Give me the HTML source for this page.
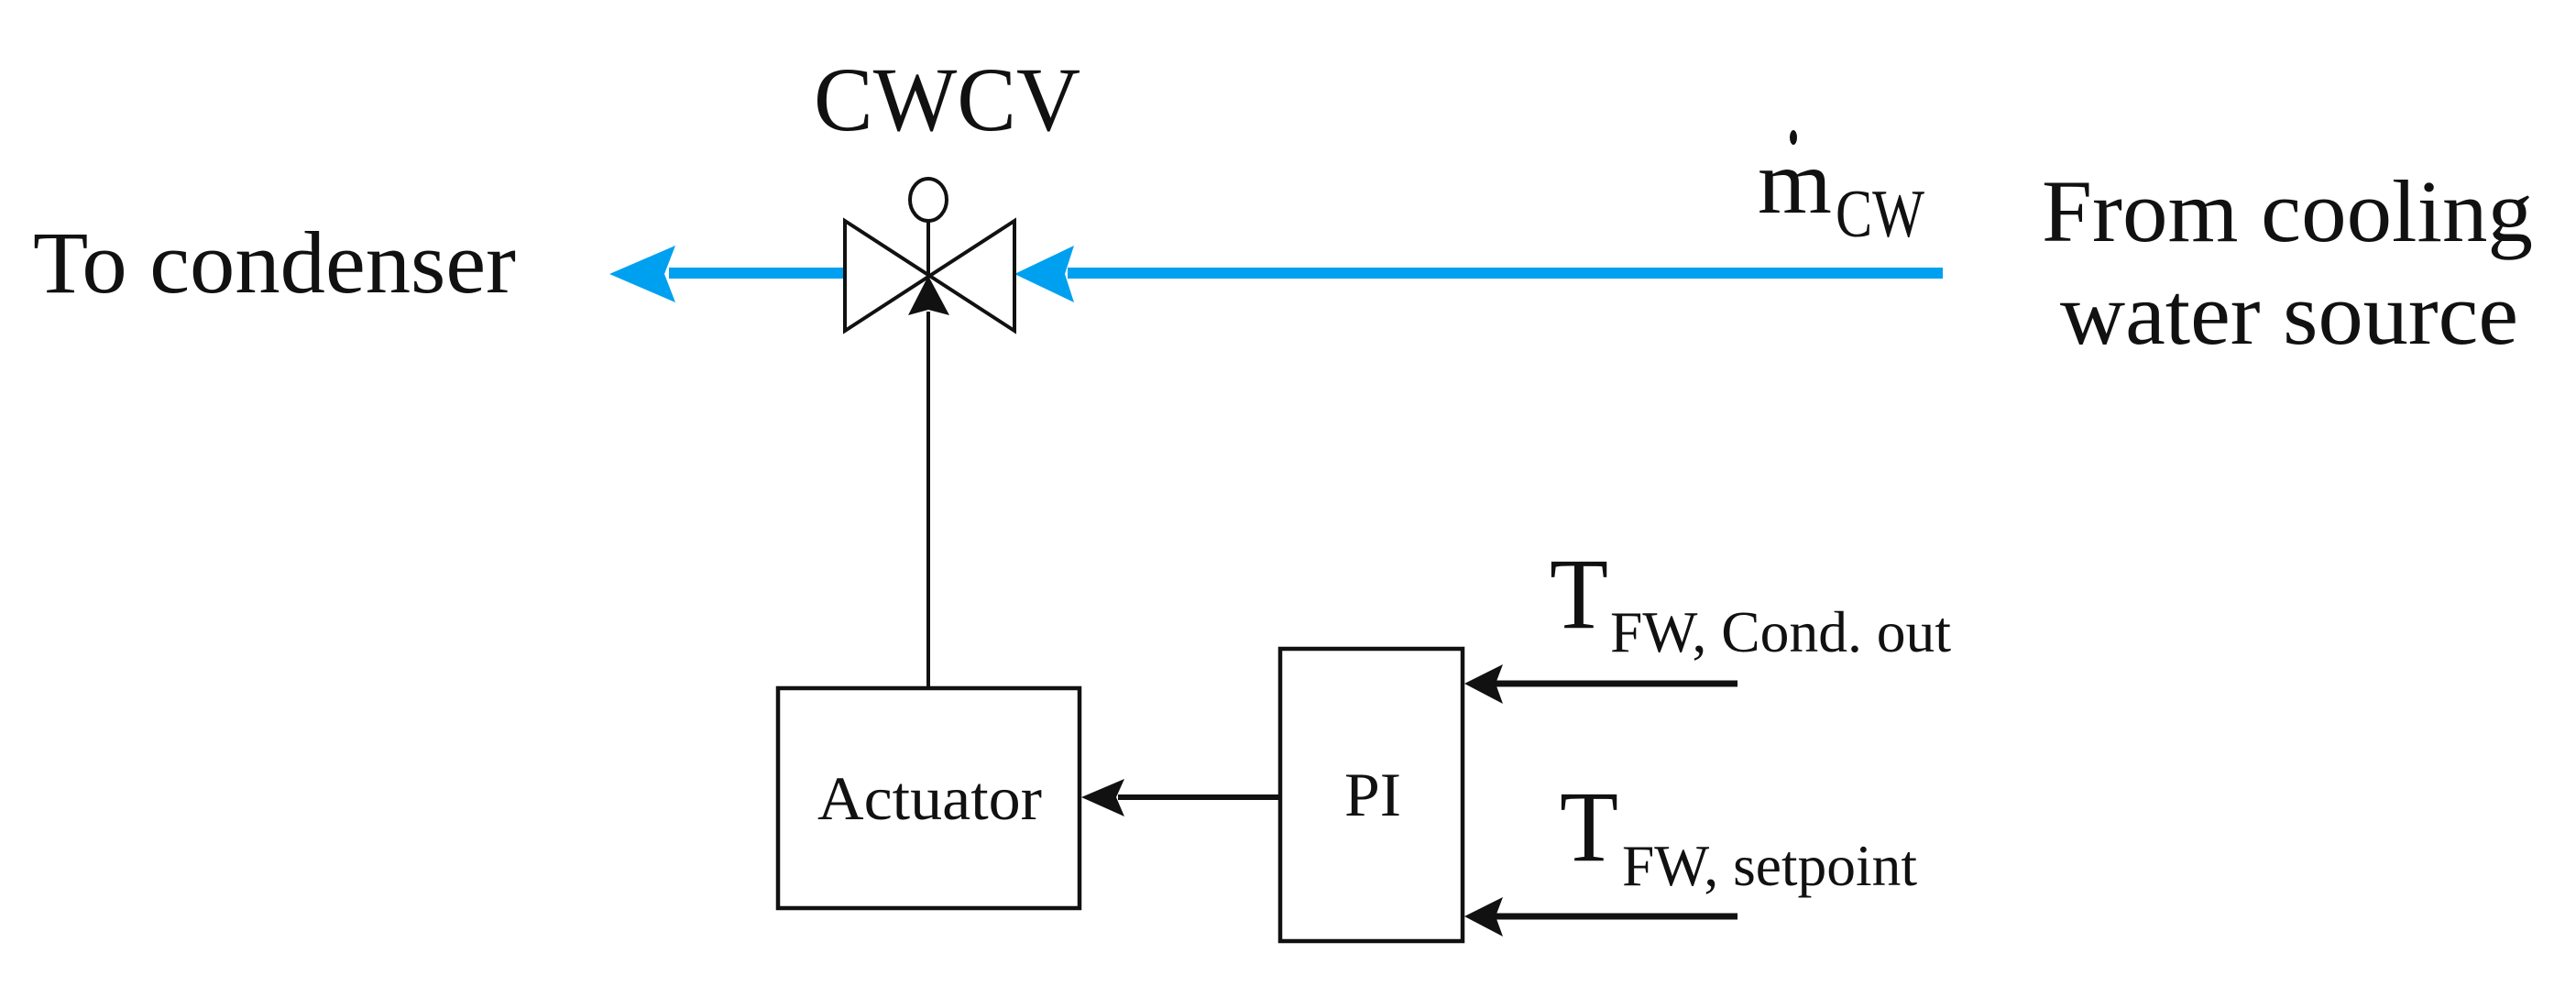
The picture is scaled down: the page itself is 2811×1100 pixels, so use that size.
<!DOCTYPE html>
<html><head><meta charset="utf-8"><style>
html,body{margin:0;padding:0;background:#fff;}
svg{display:block;}
text{font-family:"Liberation Serif","Times New Roman",serif;fill:#111;}
</style></head><body>
<svg width="2811" height="1100" viewBox="0 0 2811 1100" xmlns="http://www.w3.org/2000/svg">
<rect width="2811" height="1100" fill="#fff"/>
<!-- labels -->
<text x="888" y="142" font-size="100" textLength="291" lengthAdjust="spacingAndGlyphs">CWCV</text>
<text x="36" y="319" font-size="96" textLength="527" lengthAdjust="spacingAndGlyphs">To condenser</text>
<text x="1918" y="232" font-size="100" textLength="81" lengthAdjust="spacingAndGlyphs">m</text>
<ellipse cx="1957" cy="150" rx="4" ry="8" fill="#111"/>
<text x="2003" y="258" font-size="74" textLength="97" lengthAdjust="spacingAndGlyphs">CW</text>
<text x="2228" y="263" font-size="96" textLength="536" lengthAdjust="spacingAndGlyphs">From cooling</text>
<text x="2248" y="375" font-size="96" textLength="500" lengthAdjust="spacingAndGlyphs">water source</text>
<!-- blue flow -->
<line x1="730" y1="298" x2="922" y2="298" stroke="#00a0f0" stroke-width="12"/>
<polygon points="665,299 737,268 725,299 737,330" fill="#00a0f0"/>
<line x1="1165" y1="298" x2="2120" y2="298" stroke="#00a0f0" stroke-width="12"/>
<polygon points="1107,299 1172,268 1162,299 1172,330" fill="#00a0f0"/>
<!-- valve -->
<polygon points="922,241 1107,361 1107,241 922,361" fill="none" stroke="#111" stroke-width="4" stroke-linejoin="miter"/>
<ellipse cx="1013" cy="218" rx="20" ry="23" fill="#fff" stroke="#111" stroke-width="4"/>
<line x1="1013" y1="241" x2="1013" y2="301" stroke="#111" stroke-width="4"/>
<line x1="1013" y1="340" x2="1013" y2="750" stroke="#111" stroke-width="4"/>
<polygon points="1013,301 1036,344 1013,338 991,344" fill="#111"/>
<!-- actuator -->
<rect x="849" y="751" width="329" height="240" fill="none" stroke="#111" stroke-width="4.5"/>
<text x="892" y="894" font-size="68" textLength="245" lengthAdjust="spacingAndGlyphs">Actuator</text>
<!-- PI -->
<rect x="1397" y="708" width="199" height="319" fill="none" stroke="#111" stroke-width="4.5"/>
<text x="1467" y="890" font-size="68" textLength="62" lengthAdjust="spacingAndGlyphs">PI</text>
<line x1="1220" y1="870" x2="1397" y2="870" stroke="#111" stroke-width="6"/>
<polygon points="1180,870 1227,850 1218,870 1227,891" fill="#111"/>
<!-- inputs -->
<line x1="1630" y1="746" x2="1896" y2="746" stroke="#111" stroke-width="7"/>
<polygon points="1598,746 1640,725 1632,746 1640,768" fill="#111"/>
<line x1="1630" y1="1000" x2="1896" y2="1000" stroke="#111" stroke-width="7"/>
<polygon points="1598,1000 1640,979 1632,1000 1640,1022" fill="#111"/>
<text x="1691" y="685" font-size="110" textLength="64" lengthAdjust="spacingAndGlyphs">T</text>
<text x="1757" y="711" font-size="63" textLength="372" lengthAdjust="spacingAndGlyphs">FW, Cond. out</text>
<text x="1702" y="939" font-size="110" textLength="64" lengthAdjust="spacingAndGlyphs">T</text>
<text x="1770" y="966" font-size="63" textLength="322" lengthAdjust="spacingAndGlyphs">FW, setpoint</text>
</svg>
</body></html>
